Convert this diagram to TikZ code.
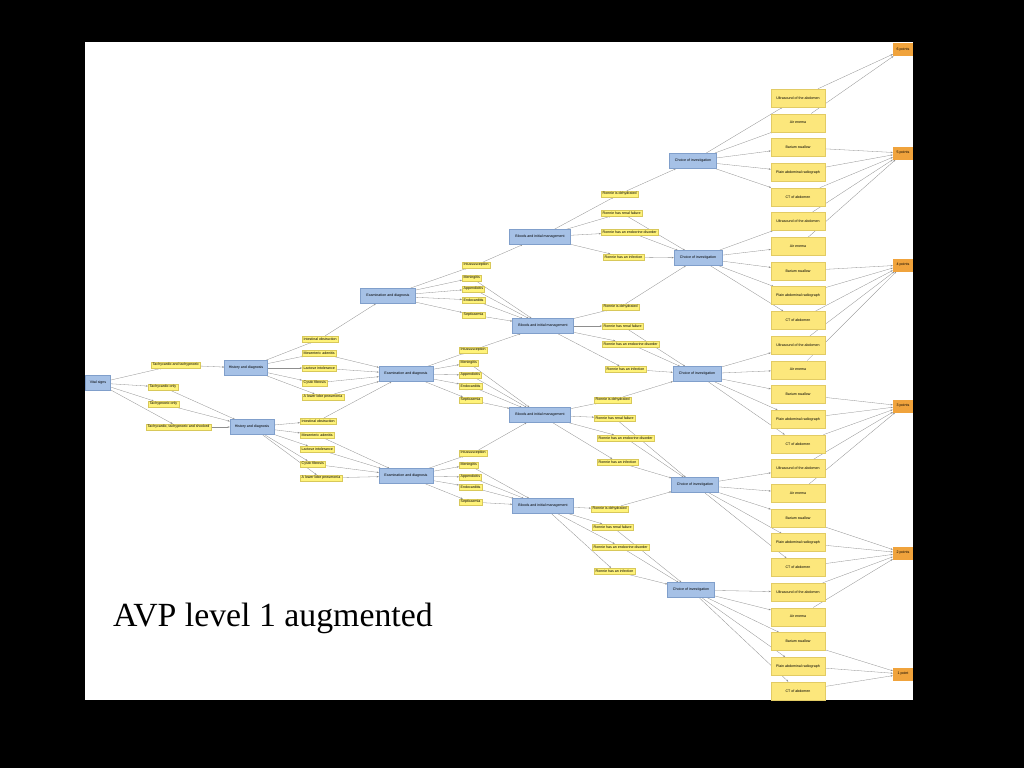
\documentclass[tikz,border=0pt]{standalone}
\usepackage{fontspec}
\setmainfont{Liberation Serif}
\setsansfont{Liberation Sans}
\usepackage{tikz}
\usetikzlibrary{arrows.meta}
\definecolor{bluebox}{HTML}{A6C1E6}
\definecolor{blueline}{HTML}{809FCB}
\definecolor{lblfill}{HTML}{FFF37A}
\definecolor{lblline}{HTML}{D8C85A}
\definecolor{optfill}{HTML}{FCE77C}
\definecolor{optline}{HTML}{E2CB64}
\definecolor{ptsfill}{HTML}{F0A33C}
\definecolor{wire}{HTML}{8E8E8E}
\pgfdeclarelayer{canvas}
\pgfdeclarelayer{wires}
\pgfsetlayers{canvas,wires,main}

\begin{document}
\begin{tikzpicture}[x=1pt, y=-1pt,
  blk/.style={draw=blueline, fill=bluebox, line width=0.3pt, minimum height=15pt, inner sep=0pt, font=\sffamily\fontsize{3.6}{4}\selectfont},
  lbl/.style={draw=lblline, fill=lblfill, line width=0.3pt, anchor=west, minimum height=6pt, inner xsep=1.5pt, inner ysep=0pt, font=\sffamily\fontsize{3.6}{4}\selectfont},
  opt/.style={draw=optline, fill=optfill, line width=0.3pt, minimum width=54pt, minimum height=18pt, inner sep=0pt, font=\sffamily\fontsize{3.6}{4}\selectfont},
  pts/.style={fill=ptsfill, minimum width=20pt, minimum height=13pt, inner sep=0pt, font=\sffamily\fontsize{3.6}{4}\selectfont},
  arr/.style={-{Stealth[length=2.2pt, width=1.6pt]}, draw=wire, line width=0.3pt}
]
\useasboundingbox (0,0) rectangle (1024,768);
\begin{pgfonlayer}{canvas}
\fill[black] (0,0) rectangle (1024,768);
\fill[white] (85,42) rectangle (913,700);
\end{pgfonlayer}

% vital signs
\node[blk, minimum width=25pt] (vital) at (98,383) {Vital signs};
\node[lbl] (tt) at (151,365) {Tachycardic and tachypnoeic};
\node[lbl] (tc) at (148,387) {Tachycardic only};
\node[lbl] (tp) at (148,404) {Tachypnoeic only};
\node[lbl] (ts) at (146,427) {Tachycardic, tachypnoeic and shocked};

% history
\node[blk, minimum width=43pt] (hist1) at (246,368) {History and diagnosis};
\node[blk, minimum width=44pt] (hist2) at (252,427) {History and diagnosis};
\node[lbl] (io1) at (302,339) {Intestinal obstruction};
\node[lbl] (ma1) at (302,353) {Mesenteric adenitis};
\node[lbl] (li1) at (302,368) {Lactose intolerance};
\node[lbl] (cf1) at (302,383) {Cystic fibrosis};
\node[lbl] (lp1) at (302,397) {A lower lobe pneumonia};
\node[lbl] (io2) at (300,421) {Intestinal obstruction};
\node[lbl] (ma2) at (300,435) {Mesenteric adenitis};
\node[lbl] (li2) at (300,449) {Lactose intolerance};
\node[lbl] (cf2) at (300,464) {Cystic fibrosis};
\node[lbl] (lp2) at (300,478) {A lower lobe pneumonia};

% examination
\node[blk, minimum width=55pt] (exam1) at (388,296) {Examination and diagnosis};
\node[blk, minimum width=54pt] (exam2) at (406,374) {Examination and diagnosis};
\node[blk, minimum width=54pt] (exam3) at (406,476) {Examination and diagnosis};
\node[lbl] (in1) at (462,265) {Intussusception};
\node[lbl] (me1) at (462,278) {Meningitis};
\node[lbl] (ap1) at (462,289) {Appendicitis};
\node[lbl] (en1) at (462,300) {Endocarditis};
\node[lbl] (se1) at (462,315) {Septicaemia};
\node[lbl] (in2) at (459,350) {Intussusception};
\node[lbl] (me2) at (459,363) {Meningitis};
\node[lbl] (ap2) at (459,375) {Appendicitis};
\node[lbl] (en2) at (459,386) {Endocarditis};
\node[lbl] (se2) at (459,400) {Septicaemia};
\node[lbl] (in3) at (459,453) {Intussusception};
\node[lbl] (me3) at (459,465) {Meningitis};
\node[lbl] (ap3) at (459,477) {Appendicitis};
\node[lbl] (en3) at (459,487) {Endocarditis};
\node[lbl] (se3) at (459,502) {Septicaemia};

% bloods
\node[blk, minimum width=61pt] (blood1) at (540,237) {Bloods and initial management};
\node[blk, minimum width=61pt] (blood2) at (543,326) {Bloods and initial management};
\node[blk, minimum width=61pt] (blood3) at (540,415) {Bloods and initial management};
\node[blk, minimum width=61pt] (blood4) at (543,506) {Bloods and initial management};
\node[lbl] (dh1) at (601,194) {Ronnie is dehydrated};
\node[lbl] (rf1) at (601,213) {Ronnie has renal failure};
\node[lbl] (ed1) at (601,232) {Ronnie has an endocrine disorder};
\node[lbl] (inf1) at (603,257) {Ronnie has an infection};
\node[lbl] (dh2) at (602,307) {Ronnie is dehydrated};
\node[lbl] (rf2) at (602,326) {Ronnie has renal failure};
\node[lbl] (ed2) at (602,344) {Ronnie has an endocrine disorder};
\node[lbl] (inf2) at (605,369) {Ronnie has an infection};
\node[lbl] (dh3) at (594,400) {Ronnie is dehydrated};
\node[lbl] (rf3) at (594,418) {Ronnie has renal failure};
\node[lbl] (ed3) at (597,438) {Ronnie has an endocrine disorder};
\node[lbl] (inf3) at (597,462) {Ronnie has an infection};
\node[lbl] (dh4) at (591,509) {Ronnie is dehydrated};
\node[lbl] (rf4) at (592,527) {Ronnie has renal failure};
\node[lbl] (ed4) at (592,547) {Ronnie has an endocrine disorder};
\node[lbl] (inf4) at (594,571) {Ronnie has an infection};

% choice of investigation
\node[blk, minimum width=47pt] (choice1) at (693,161) {Choice of investigation};
\node[blk, minimum width=48pt] (choice2) at (698,258) {Choice of investigation};
\node[blk, minimum width=48pt] (choice3) at (697,374) {Choice of investigation};
\node[blk, minimum width=47pt] (choice4) at (695,485) {Choice of investigation};
\node[blk, minimum width=47pt] (choice5) at (691,590) {Choice of investigation};

% points
\node[pts] (pts1) at (903,49.5) {6 points};
\node[pts] (pts2) at (903,153) {5 points};
\node[pts] (pts3) at (903,265) {4 points};
\node[pts] (pts4) at (903,406) {3 points};
\node[pts] (pts5) at (903,553) {2 points};
\node[pts] (pts6) at (903,674) {1 point};

\node[font=\fontsize{33.8}{36}\selectfont, anchor=base west, inner sep=0pt] (title) at (113,626) {AVP level 1 augmented};

% investigation options
\foreach \i in {1,...,5}
  \foreach \j/\t in {1/Ultrasound of the abdomen, 2/Air enema, 3/Barium swallow, 4/Plain abdominal radiograph, 5/CT of abdomen}{
    \pgfmathsetmacro{\yy}{98+24.7*(5*(\i-1)+\j-1)}
    \node[opt] (opt\i\j) at (798,\yy) {\t};
  }

\begin{pgfonlayer}{wires}
\foreach \a/\b in {vital/tt, vital/tc, vital/tp, vital/ts, tt/hist1, tc/hist2, tp/hist2, ts/hist2,
  hist1/io1, hist1/ma1, hist1/li1, hist1/cf1, hist1/lp1, io1/exam1, ma1/exam2, li1/exam2, cf1/exam2, lp1/exam2,
  hist2/io2, hist2/ma2, hist2/li2, hist2/cf2, hist2/lp2, io2/exam2, ma2/exam3, li2/exam3, cf2/exam3, lp2/exam3}
  \draw[arr] (\a) -- (\b);
\foreach \i [evaluate=\i as \n using int(\i+1)] in {1,2,3}{
  \foreach \l in {in,me,ap,en,se}
    \draw[arr] (exam\i) -- (\l\i);
  \draw[arr] (in\i) -- (blood\i);
  \foreach \l in {me,ap,en,se}
    \draw[arr] (\l\i) -- (blood\n);
}
\foreach \i [evaluate=\i as \n using int(\i+1)] in {1,2,3,4}{
  \foreach \l in {dh,rf,ed,inf}
    \draw[arr] (blood\i) -- (\l\i);
  \draw[arr] (dh\i) -- (choice\i);
  \foreach \l in {rf,ed,inf}
    \draw[arr] (\l\i) -- (choice\n);
}
\foreach \i [evaluate=\i as \n using int(\i+1)] in {1,...,5}{
  \foreach \j in {1,...,5}
    \draw[arr] (choice\i) -- (opt\i\j);
  \draw[arr] (opt\i1) -- (pts\i);
  \draw[arr] (opt\i2) -- (pts\i);
  \foreach \j in {3,4,5}
    \draw[arr] (opt\i\j) -- (pts\n);
}
\end{pgfonlayer}
\end{tikzpicture}
\end{document}
